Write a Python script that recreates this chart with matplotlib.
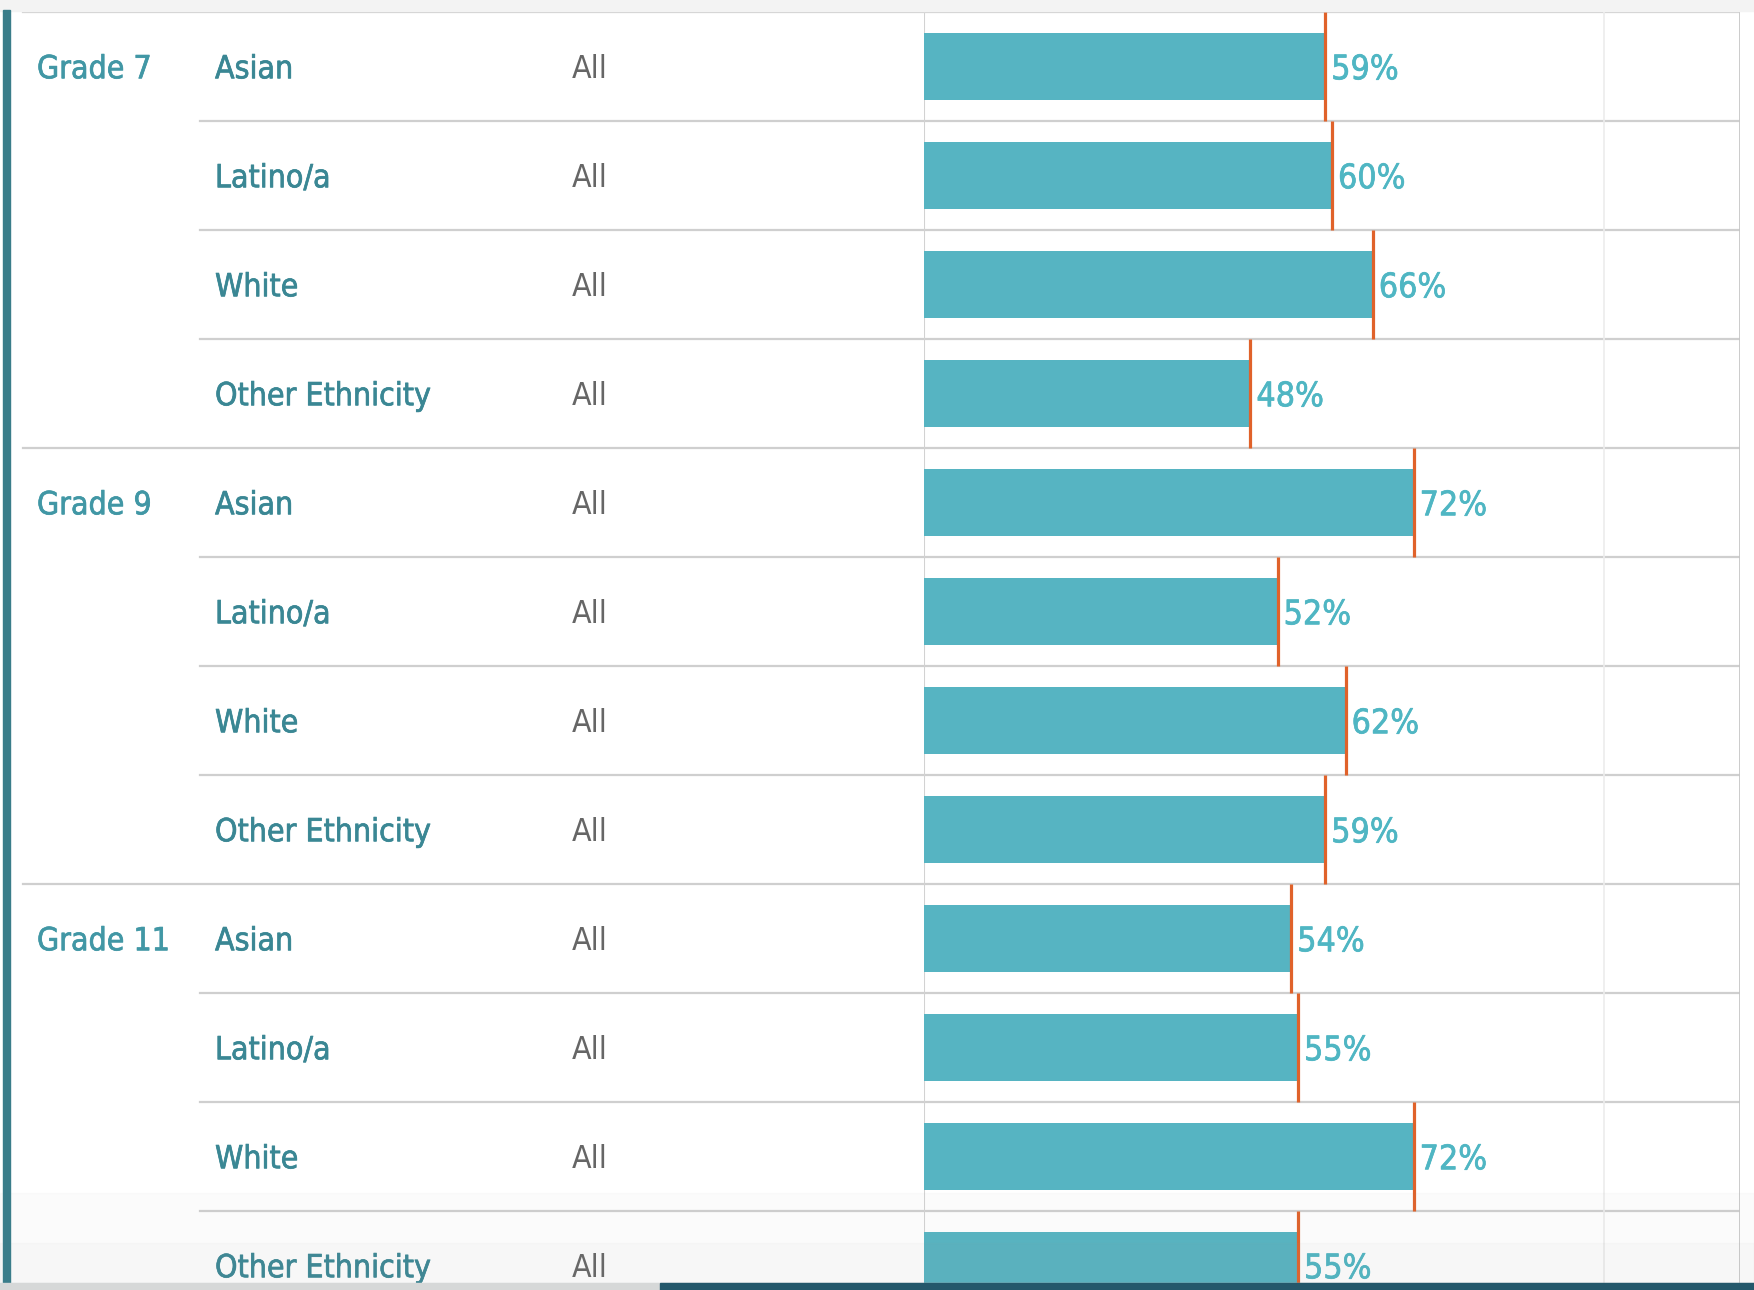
import matplotlib.pyplot as plt
from matplotlib import font_manager as fm
from matplotlib import patheffects as pe
from matplotlib.patches import Rectangle

grades = ['Grade 7', 'Grade 9', 'Grade 11']
ethnicities = ['Asian', 'Latino/a', 'White', 'Other Ethnicity']
gender = 'All'
grade7 = [59, 60, 66, 48]
grade9 = [72, 52, 62, 59]
grade11 = [54, 55, 72, 55]

values = grade7 + grade9 + grade11
n_rows = len(values)

W, H = 1754, 1290
fig = plt.figure(figsize=(W / 100, H / 100), dpi=100)
fig.patch.set_facecolor('white')

# look for a narrow face, the original uses a condensed Tableau font
font_file = None
for key in ['LiberationSansNarrow-Regular', 'DejaVuSansCondensed.ttf']:
    hits = [f.fname for f in fm.fontManager.ttflist if key in f.fname]
    if not hits:
        hits = [f for f in fm.findSystemFonts() if key in f]
    if hits:
        font_file = hits[0]
        break
if font_file:
    fp = fm.FontProperties(fname=font_file)
else:
    fp = fm.FontProperties(family='DejaVu Sans')

# size the font so that "Other Ethnicity" is about as wide as in the original
probe = fig.text(0, 0, 'Other Ethnicity', fontproperties=fp, fontsize=20)
w20 = probe.get_window_extent(fig.canvas.get_renderer()).width
probe.remove()
fs = min(30, 20 * 216 / w20)

bar_color = '#56b4c2'
ref_color = '#e0622a'
pct_color = '#4fb6c3'
grade_color = '#4197a5'
eth_color = '#3a8794'
grid_color = '#cfcfcf'


def heavier(color):
    return [pe.withStroke(linewidth=0.5, foreground=color)]


# table geometry in pixels
top_px, row_px = 12, 109
axis_left, axis_right = 924, 1740
table_h = row_px * n_rows
bottom_frac = (H - top_px - table_h) / H
height_frac = table_h / H

ax_lab = fig.add_axes([0, bottom_frac, axis_left / W, height_frac])
ax = fig.add_axes([axis_left / W, bottom_frac, (axis_right - axis_left) / W, height_frac])
for a in (ax, ax_lab):
    a.set_ylim(n_rows, 0)
    a.axis('off')
ax_lab.set_xlim(0, axis_left)
ax.set_xlim(0, 120)

rows = [i + 0.5 for i in range(n_rows)]
ty = 0.03  # small downward nudge of the text

# bars + reference marks
ax.barh(rows, values, height=0.62, color=bar_color, zorder=2)
for y, v in zip(rows, values):
    ax.plot([v, v], [y - 0.5, y + 0.5], color=ref_color, lw=2.3, zorder=4,
            solid_capstyle='butt')
    ax.annotate(f'{v}%', (v, y + ty), xytext=(6, 0), textcoords='offset pixels',
                ha='left', va='center', fontsize=fs * 1.06, color=pct_color,
                fontproperties=fp, zorder=5, path_effects=heavier(pct_color))

# grid lines
for k in range(n_rows + 1):
    ax.axhline(k, color=grid_color, lw=1.6, zorder=1)
ax.axvline(0, color='#d2d2d2', lw=1.5, zorder=1)
ax.axvline(100, color='#ececec', lw=1.2, zorder=1)
ax.axvline(120, color='#c6c6c6', lw=2, zorder=1)

# label columns
for k in range(n_rows + 1):
    x0 = 23 if k % len(ethnicities) == 0 else 200
    ax_lab.plot([x0, axis_left], [k, k], color=grid_color, lw=1.6, zorder=1)

for g, grade in enumerate(grades):
    ax_lab.text(37, rows[g * len(ethnicities)] + ty, grade, ha='left', va='center',
                fontproperties=fp, fontsize=fs, color=grade_color,
                path_effects=heavier(grade_color))
    for e, eth in enumerate(ethnicities):
        y = rows[g * len(ethnicities) + e] + ty
        ax_lab.text(215, y, eth, ha='left', va='center', fontproperties=fp,
                    fontsize=fs, color=eth_color, path_effects=heavier(eth_color))
        ax_lab.text(572, y, gender, ha='left', va='center', fontproperties=fp,
                    fontsize=fs, color='#666666')

# screenshot frame bits
fig.patches.append(Rectangle((0, 1 - 11 / H), 1, 11 / H, transform=fig.transFigure,
                             color='#f3f3f3', zorder=0))
fig.patches.append(Rectangle((3 / W, 7 / H), 7 / W, 1 - 17 / H, transform=fig.transFigure,
                             color='#3a7d8a', zorder=10))
fig.patches.append(Rectangle((0, 7 / H), 1, 90 / H, transform=fig.transFigure,
                             color='#999999', alpha=0.03, zorder=6))
fig.patches.append(Rectangle((0, 7 / H), 1, 40 / H, transform=fig.transFigure,
                             color='#999999', alpha=0.04, zorder=6))
fig.patches.append(Rectangle((0, 0), 1, 7 / H, transform=fig.transFigure,
                             color='#d6d8d8', zorder=11))
fig.patches.append(Rectangle((660 / W, 0), 1, 7 / H, transform=fig.transFigure,
                             color='#24586b', zorder=12))

plt.savefig('out.png', dpi=100)
